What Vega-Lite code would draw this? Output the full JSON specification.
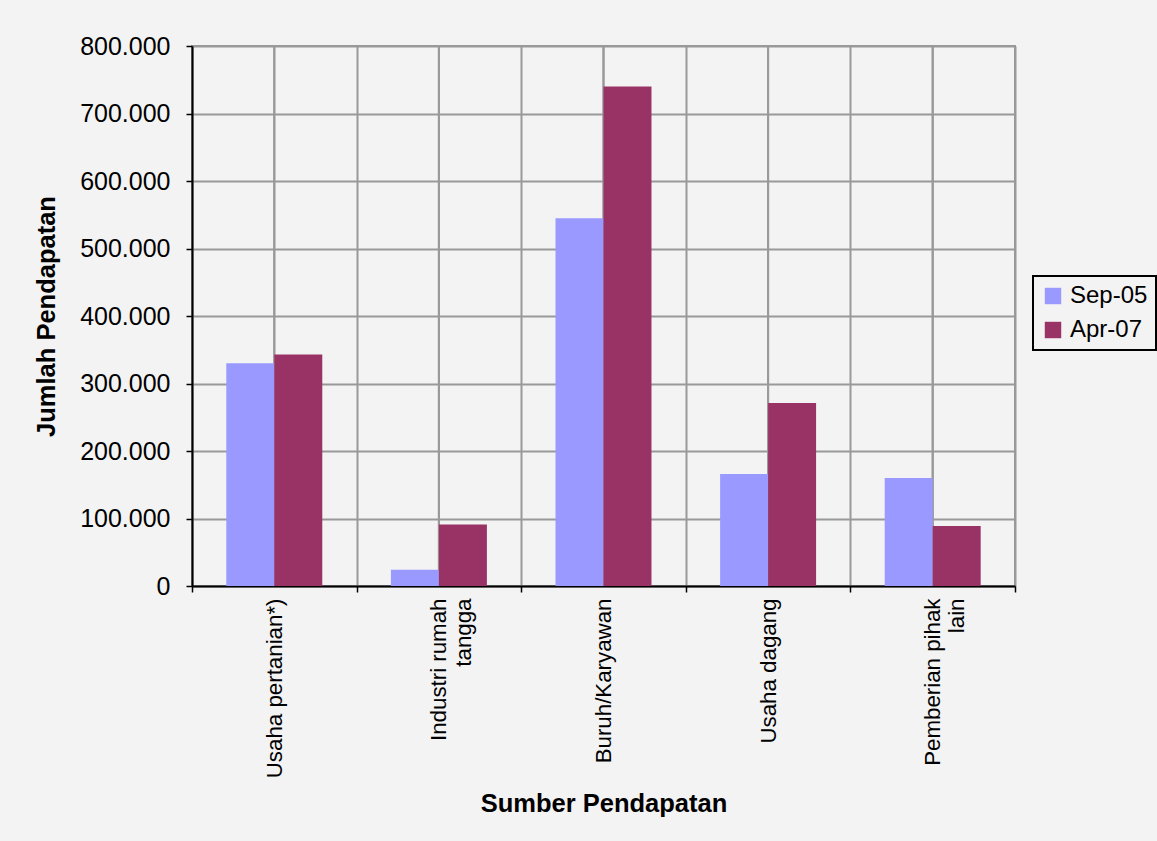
{
  "$schema": "https://vega.github.io/schema/vega-lite/v6.json",
  "autosize": {"type": "none"},
  "padding": {"left": 192, "top": 46, "right": 142, "bottom": 255},
  "width": 823,
  "height": 540,
  "background": "#f3f3f3",
  "config": {
    "font": "Liberation Sans",
    "view": {"stroke": "#999999", "strokeWidth": 2}
  },
  "data": {
    "values": [
      {"sumber": "Usaha pertanian*)", "periode": "Sep-05", "jumlah": 330000},
      {"sumber": "Usaha pertanian*)", "periode": "Apr-07", "jumlah": 343000},
      {"sumber": "Industri rumah tangga", "periode": "Sep-05", "jumlah": 24000},
      {"sumber": "Industri rumah tangga", "periode": "Apr-07", "jumlah": 91000},
      {"sumber": "Buruh/Karyawan", "periode": "Sep-05", "jumlah": 545000},
      {"sumber": "Buruh/Karyawan", "periode": "Apr-07", "jumlah": 740000},
      {"sumber": "Usaha dagang", "periode": "Sep-05", "jumlah": 166000},
      {"sumber": "Usaha dagang", "periode": "Apr-07", "jumlah": 271000},
      {"sumber": "Pemberian pihak lain", "periode": "Sep-05", "jumlah": 160000},
      {"sumber": "Pemberian pihak lain", "periode": "Apr-07", "jumlah": 89000}
    ]
  },
  "encoding": {
    "x": {
      "field": "sumber",
      "type": "nominal",
      "sort": null,
      "scale": {"paddingInner": 0, "paddingOuter": 0},
      "axis": {
        "title": "Sumber Pendapatan",
        "titleFontSize": 25.5,
        "titleFontWeight": "bold",
        "titleColor": "black",
        "titlePadding": 14,
        "tickBand": "extent",
        "grid": true,
        "gridColor": "#999999",
        "gridWidth": 2,
        "domainColor": "black",
        "domainWidth": 2,
        "tickColor": "black",
        "tickWidth": 1.5,
        "tickSize": 6,
        "labelAngle": -90,
        "labelAlign": "right",
        "labelBaseline": "middle",
        "labelFontSize": 22.3,
        "labelColor": "black",
        "labelPadding": 6,
        "labelLimit": 400,
        "labelExpr": "datum.value == 'Industri rumah tangga' ? ['Industri  rumah', 'tangga'] : datum.value == 'Pemberian pihak lain' ? ['Pemberian pihak', 'lain'] : datum.value"
      }
    }
  },
  "layer": [
    {
      "mark": {"type": "rule", "color": "#999999", "strokeWidth": 2},
      "encoding": {}
    },
    {
      "mark": {"type": "bar"},
      "encoding": {
        "xOffset": {
          "field": "periode",
          "type": "nominal",
          "sort": ["Sep-05", "Apr-07"],
          "scale": {"paddingInner": 0, "paddingOuter": 0.715}
        },
        "y": {
          "field": "jumlah",
          "type": "quantitative",
          "scale": {"domain": [0, 800000], "nice": false},
          "axis": {
            "title": "Jumlah Pendapatan",
            "titleFontSize": 25.5,
            "titleFontWeight": "bold",
            "titleColor": "black",
            "titlePadding": 20,
            "values": [0, 100000, 200000, 300000, 400000, 500000, 600000, 700000, 800000],
            "labelExpr": "replace(format(datum.value, ','), ',', '.')",
            "labelFontSize": 25,
            "labelColor": "black",
            "labelPadding": 16,
            "tickSize": 6,
            "tickColor": "black",
            "tickWidth": 1.5,
            "domainColor": "black",
            "domainWidth": 2,
            "grid": true,
            "gridColor": "#999999",
            "gridWidth": 2
          }
        },
        "color": {
          "field": "periode",
          "type": "nominal",
          "sort": ["Sep-05", "Apr-07"],
          "scale": {"domain": ["Sep-05", "Apr-07"], "range": ["#9999ff", "#993366"]},
          "legend": {
            "title": null,
            "orient": "none",
            "legendX": 841,
            "legendY": 230,
            "strokeColor": "black",
            "fillColor": "#f3f3f3",
            "padding": 8,
            "symbolType": "square",
            "symbolSize": 270,
            "symbolStrokeWidth": 0,
            "symbolOpacity": 1,
            "labelFontSize": 24,
            "labelColor": "black",
            "labelOffset": 5,
            "rowPadding": 10,
            "encode": {"legend": {"update": {"strokeWidth": {"value": 2}}}}
          }
        }
      }
    }
  ]
}
